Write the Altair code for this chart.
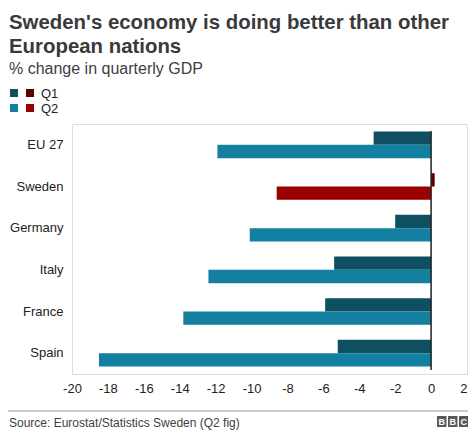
import altair as alt
import pandas as pd

countries = ["EU 27", "Sweden", "Germany", "Italy", "France", "Spain"]
q1 = [-3.2, 0.2, -2.0, -5.4, -5.9, -5.2]
q2 = [-11.9, -8.6, -10.1, -12.4, -13.8, -18.5]
x_ticks = [-20, -18, -16, -14, -12, -10, -8, -6, -4, -2, 0, 2]

rows = []
for c, a, b in zip(countries, q1, q2):
    for q, v in (("Q1", a), ("Q2", b)):
        key = ("Sweden " + q) if c == "Sweden" else q
        rows.append({"country": c, "quarter": q, "value": v, "key": key})
df = pd.DataFrame(rows)

FONT = "Liberation Sans"
W, H = 395, 250

x_axis = alt.Axis(values=x_ticks, ticks=False, domain=False, grid=False,
                  labelFontSize=13, labelColor="#222222", labelFont=FONT,
                  labelPadding=8, labelOverlap=False, labelFlush=False,
                  labelAlign={"condition": {"test": "datum.value == 2", "value": "right"},
                              "value": "center"},
                  labelExpr="'' + datum.value")
x_scale = alt.Scale(domain=[-20, 2], nice=False)

bars = alt.Chart(df).mark_bar().encode(
    y=alt.Y("country:N", sort=countries, title=None,
            scale=alt.Scale(paddingInner=0.36, paddingOuter=0.18),
            axis=alt.Axis(ticks=False, domain=False, labelFontSize=13,
                          labelColor="#222222", labelFont=FONT, labelPadding=9)),
    yOffset=alt.YOffset("quarter:N", sort=["Q1", "Q2"]),
    x=alt.X("value:Q", title=None, scale=x_scale, axis=x_axis),
    color=alt.Color("key:N", legend=None,
                    scale=alt.Scale(domain=["Q1", "Q2", "Sweden Q1", "Sweden Q2"],
                                    range=["#0E4F61", "#1380A1", "#5C0000", "#990000"])),
)

zero = alt.Chart(pd.DataFrame({"value": [0]})).mark_rule(color="#222222", strokeWidth=1.5).encode(
    x=alt.X("value:Q", title=None, scale=x_scale, axis=x_axis),
    y=alt.value(7), y2=alt.value(246)
)

layers = [bars, zero]

# Legend
legend_items = [("Q1", "#0E4F61", "#5C0000", -31), ("Q2", "#1380A1", "#990000", -16)]
one = pd.DataFrame({"a": [1]})
for lab, c1, c2, yy in legend_items:
    layers.append(alt.Chart(one).mark_rect(color=c1).encode(
        x=alt.value(-62), x2=alt.value(-54), y=alt.value(yy - 4), y2=alt.value(yy + 4)))
    layers.append(alt.Chart(one).mark_rect(color=c2).encode(
        x=alt.value(-46), x2=alt.value(-38), y=alt.value(yy - 4), y2=alt.value(yy + 4)))
    layers.append(alt.Chart(one).mark_text(text=lab, align="left", baseline="middle",
                                           fontSize=13, font=FONT, color="#222222").encode(
        x=alt.value(-31), y=alt.value(yy + 0.5)))

# Footer
layers.append(alt.Chart(one).mark_rule(color="#999999", strokeWidth=1).encode(
    x=alt.value(-64), x2=alt.value(404), y=alt.value(287)))
layers.append(alt.Chart(one).mark_text(text="Source: Eurostat/Statistics Sweden (Q2 fig)",
                                       align="left", baseline="alphabetic", fontSize=12,
                                       font=FONT, color="#404040").encode(
    x=alt.value(-63), y=alt.value(303)))
for i, letter in enumerate("BBC"):
    x0 = 365 + i * 11
    layers.append(alt.Chart(one).mark_rect(color="#5a5a5a").encode(
        x=alt.value(x0), x2=alt.value(x0 + 9.5), y=alt.value(292), y2=alt.value(303)))
    layers.append(alt.Chart(one).mark_text(text=letter, align="center", baseline="middle",
                                           fontSize=9, fontWeight="bold", font=FONT,
                                           color="white").encode(
        x=alt.value(x0 + 4.75), y=alt.value(297.5)))

chart = alt.layer(*layers).properties(
    width=W, height=H,
    title=alt.TitleParams(
        text=["Sweden's economy is doing better than other", "European nations"],
        subtitle="% change in quarterly GDP",
        anchor="start", frame="group", dx=-63, offset=11,
        font=FONT, fontSize=20.4, fontWeight="bold", color="#3a3a3a", lineHeight=24,
        subtitleFont=FONT, subtitleFontSize=16, subtitleColor="#404040",
        subtitlePadding=3,
    ),
    autosize=alt.AutoSizeParams(type="none"),
    padding={"left": 64, "top": 116, "right": 1, "bottom": 58},
).configure_view(stroke=None).configure(background="white")

chart.save("out.html", embed_options={"renderer": "svg", "actions": False})
